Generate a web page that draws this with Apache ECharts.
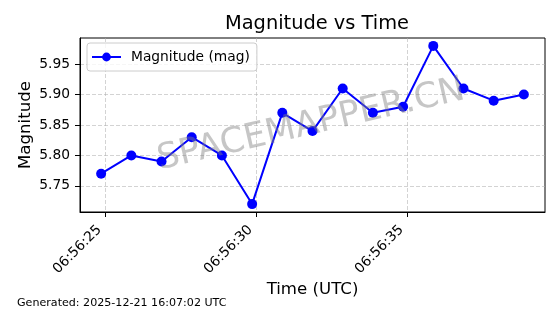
<!DOCTYPE html>
<html>
<head>
<meta charset="utf-8">
<script src="https://cdn.jsdelivr.net/npm/echarts@6/dist/echarts.min.js"></script>
<style>html,body{margin:0;padding:0;background:#fff;}#c{width:560px;height:314px;}</style>
</head>
<body>
<div id="c"></div>
<script>
const times = ["06:56:24.87","06:56:25.87","06:56:26.87","06:56:27.87","06:56:28.87","06:56:29.87","06:56:30.87","06:56:31.87","06:56:32.87","06:56:33.87","06:56:34.87","06:56:35.87","06:56:36.87","06:56:37.87","06:56:38.87"];
const magnitudes = [5.77,5.80,5.79,5.83,5.80,5.72,5.87,5.84,5.91,5.87,5.88,5.98,5.91,5.89,5.90];
const xTickSeconds = [25,30,35];
const yTicks = [5.75,5.80,5.85,5.90,5.95];
const baseLabel = "06:56:";
const generatedText = "Generated: 2025-12-21 16:07:02 UTC";

function toSec(t){const p=t.split(":");return (+p[0])*3600+(+p[1])*60+(+p[2]) - (6*3600+56*60);}
const data = times.map((t,i)=>[toSec(t), magnitudes[i]]);
const xs = data.map(d=>d[0]);
const xmin = Math.min(...xs), xmax = Math.max(...xs);
const xpad = (xmax-xmin)*0.05;
const ymin0 = Math.min(...magnitudes), ymax0 = Math.max(...magnitudes);
const ypad = (ymax0-ymin0)*0.05;

const font = "DejaVu Sans";
const chart = echarts.init(document.getElementById('c'), null, {renderer:'canvas'});
chart.setOption({
  animation:false,
  backgroundColor:'#fff',
  textStyle:{fontFamily:font},
  title:{text:'Magnitude vs Time', left:312, top:9, textAlign:'center',
    textStyle:{fontFamily:font,fontSize:19.4,fontWeight:'normal',color:'#000'}},
  grid:{left:80,right:15,top:38,bottom:102,show:true,borderColor:'#000',borderWidth:1,backgroundColor:'transparent'},
  legend:{left:87,top:43,orient:'vertical',itemWidth:29,itemHeight:11,itemGap:4,
    padding:[7,7,7,4],borderColor:'#cccccc',borderWidth:1,borderRadius:3,backgroundColor:'rgba(255,255,255,0.8)',
    textStyle:{fontFamily:font,fontSize:13.8,color:'#000',padding:[0,0,0,5]},data:['Magnitude (mag)']},
  graphic:[
    {type:'text',x:311,y:125,rotation:Math.PI*13/180,z:100,
     style:{text:'SPACEMAPPER.CN',fontFamily:font,fontSize:35,fill:'rgba(128,128,128,0.45)',textAlign:'center',textVerticalAlign:'middle'}},
    {type:'text',left:17,top:298,style:{text:generatedText,fontFamily:font,fontSize:11.1,fill:'#000'}}
  ],
  xAxis:{type:'value',min:xmin-xpad,max:xmax+xpad,
    name:'Time (UTC)',nameLocation:'middle',nameGap:69,nameMoveOverlap:false,
    nameTextStyle:{fontFamily:font,fontSize:16.6,color:'#000'},
    axisLine:{show:true,lineStyle:{color:'#000',width:1}},
    axisTick:{show:true,inside:false,length:5,customValues:xTickSeconds,lineStyle:{color:'#000'}},
    axisLabel:{customValues:xTickSeconds,rotate:45,margin:10,padding:[0,8,0,0],fontFamily:font,fontSize:13.8,color:'#000',
      formatter:v=>baseLabel+String(Math.round(v)).padStart(2,'0')},
    splitLine:{show:true,lineStyle:{color:'#b0b0b0',type:[4,2],width:0.8,opacity:0.7}}
  },
  yAxis:{type:'value',min:ymin0-ypad,max:ymax0+ypad,
    name:'Magnitude',nameLocation:'middle',nameGap:46,nameMoveOverlap:false,
    nameTextStyle:{fontFamily:font,fontSize:16.6,color:'#000'},
    axisLine:{show:true,lineStyle:{color:'#000',width:1}},
    axisTick:{show:true,inside:false,length:5,customValues:yTicks,lineStyle:{color:'#000'}},
    axisLabel:{customValues:yTicks,margin:10,fontFamily:font,fontSize:13.8,color:'#000',formatter:v=>v.toFixed(2)},
    splitLine:{show:true,lineStyle:{color:'#b0b0b0',type:[4,2],width:0.8,opacity:0.7}}
  },
  series:[{name:'Magnitude (mag)',type:'line',data:data,symbol:'circle',symbolSize:10,
    itemStyle:{color:'#0000ff'},lineStyle:{color:'#0000ff',width:2}}]
});
</script>
</body>
</html>
